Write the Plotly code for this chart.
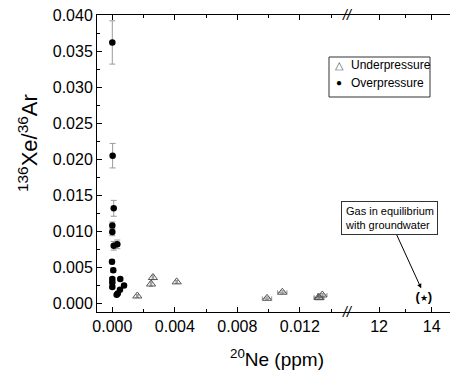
import plotly.graph_objects as go

# Overpressure samples (filled circles)
over_x = [0.0, 0.00002, 0.00009, 0.0, 0.0, 0.00009, 0.00032, -0.00002, 0.00006,
          0.0, 0.00051, 0.0, 0.0, 0.00075, 0.00049, 0.00035, 0.00028]
over_y = [0.0362, 0.0205, 0.0132, 0.0108, 0.0099, 0.0080, 0.0082, 0.0058, 0.0046,
          0.0034, 0.0034, 0.0029, 0.0023, 0.0025, 0.0019, 0.0014, 0.0012]
over_err = [0.0030, 0.0017, 0.0011, 0.0005, 0.0005, 0.0006, 0.0006, 0.0003, 0.0003,
            0.0002, 0.0002, 0.0002, 0.0002, 0.0002, 0.0001, 0.0001, 0.0001]

# Underpressure samples (open triangles)
under_x = [0.0016, 0.00248, 0.0026, 0.00412, 0.0099, 0.01088, 0.0132, 0.01344, 0.01325]
under_y = [0.00104, 0.0027, 0.0036, 0.0030, 0.00072, 0.00156, 0.00085, 0.00118, 0.0008]
under_err_y = [0.0002, 0.0003, 0.0003, 0.0002, 0.0002, 0.0002, 0.0002, 0.0002, 0.0002]
under_err_x = [0.00005, 0.00005, 0.00005, 0.00005, 0.0003, 0.0003, 0.0003, 0.0003, 0.0003]

# Gas in equilibrium with groundwater
eq_x = [13.7]
eq_y = [0.0008]

y_ticks = [0.000, 0.005, 0.010, 0.015, 0.020, 0.025, 0.030, 0.035, 0.040]
x_ticks_left = [0.000, 0.004, 0.008, 0.012]
x_ticks_right = [12, 14]
legend_names = ["Underpressure", "Overpressure"]

FONT = "Arial, Liberation Sans, sans-serif"
ERR = "#9a9a9a"
OFF = 8  # page body margin
W, H = 458, 377
# plot area in page pixels: left 97, right 458, top 15, bottom 312
L, T = 97 - OFF, 15 - OFF
R = W - (458 - OFF)
B = H - (312 - OFF)
PW, PH = W - L - R, H - T - B


def px(xp):
    return (xp - OFF - L) / PW


def py(yp):
    return (H - B - (yp - OFF)) / PH


fig = go.Figure()

fig.add_trace(go.Scatter(
    x=under_x, y=under_y, mode="markers", name=legend_names[0],
    marker=dict(symbol="triangle-up-open", size=8, color="#555555", line=dict(width=1)),
    error_y=dict(type="data", array=under_err_y, color=ERR, thickness=1, width=2),
    error_x=dict(type="data", array=under_err_x, color=ERR, thickness=1, width=2),
    xaxis="x", yaxis="y", showlegend=False,
))
fig.add_trace(go.Scatter(
    x=over_x, y=over_y, mode="markers", name=legend_names[1],
    marker=dict(symbol="circle", size=6.5, color="black"),
    error_y=dict(type="data", array=over_err, color=ERR, thickness=1, width=3),
    xaxis="x", yaxis="y", showlegend=False,
))
fig.add_trace(go.Scatter(
    x=eq_x, y=eq_y, mode="text", text=["<b>(</b><span style='font-size:9px'>★</span><b>)</b>"],
    textfont=dict(family=FONT, size=13, color="black"), showlegend=False,
    xaxis="x2", yaxis="y",
))

axis_common = dict(
    showline=True, linecolor="black", linewidth=1, ticks="inside", ticklen=5,
    tickcolor="black", tickfont=dict(family=FONT, size=16, color="black"),
    showgrid=False, zeroline=False, automargin=False, ticklabeloverflow="allow",
)

BRK = px(347)
fig.update_layout(
    width=W, height=H,
    margin=dict(l=L, r=R, t=T, b=B),
    paper_bgcolor="white", plot_bgcolor="white",
    xaxis=dict(domain=[0, BRK], range=[-0.00098, 0.01502], tickvals=x_ticks_left,
               tickformat=".3f", mirror="ticks",
               minor=dict(dtick=0.002, ticks="inside", ticklen=3, tickcolor="black"),
               anchor="y", **axis_common),
    xaxis2=dict(domain=[BRK, 1], range=[10.78, 15.0], tickvals=x_ticks_right, mirror="ticks",
                minor=dict(tickvals=[13], ticks="inside", ticklen=3, tickcolor="black"),
                anchor="y", **axis_common),
    yaxis=dict(domain=[0, 1], range=[-0.00118, 0.04001], tickvals=y_ticks, tickformat=".3f",
               mirror=False,
               minor=dict(dtick=0.0025, ticks="inside", ticklen=3, tickcolor="black"),
               anchor="x", **axis_common),
    showlegend=False,
    font=dict(family=FONT, color="black"),
)

# Legend box (drawn manually to match the compact original)
shapes = [
    dict(type="rect", xref="paper", yref="paper", x0=px(329), x1=px(430), y0=py(97), y1=py(57),
         line=dict(color="#333333", width=1), fillcolor="white", layer="above"),
]

annotations = [
    dict(text="<sup>136</sup>Xe/<sup>36</sup>Ar", xref="paper", yref="paper",
         x=px(28), y=py(143), textangle=-90, showarrow=False,
         font=dict(family=FONT, size=22, color="black"), xanchor="center", yanchor="middle"),
    dict(text="<sup>20</sup>Ne (ppm)", xref="paper", yref="paper",
         x=px(277), y=py(358), showarrow=False,
         font=dict(family=FONT, size=19, color="black"), xanchor="center", yanchor="middle"),
    dict(text="Gas in equilibrium<br>with groundwater", xref="x2", yref="y",
         x=13.6, y=0.0021, ax=-32, ay=-70, axref="pixel", ayref="pixel",
         showarrow=True, arrowhead=2, arrowsize=0.9, arrowwidth=1, arrowcolor="black",
         bordercolor="#333333", borderwidth=1, borderpad=3, bgcolor="white",
         font=dict(family=FONT, size=11, color="black"), align="left"),
    dict(text="<i>//</i>", xref="paper", yref="paper", x=BRK, y=0, showarrow=False,
         font=dict(family=FONT, size=14, color="black"), xanchor="center", yanchor="middle"),
    dict(text="<i>//</i>", xref="paper", yref="paper", x=BRK, y=1, showarrow=False,
         font=dict(family=FONT, size=14, color="black"), xanchor="center", yanchor="middle"),
    # legend symbols and labels
    dict(text="△", xref="paper", yref="paper", x=px(339), y=py(65), showarrow=False,
         font=dict(family=FONT, size=11, color="#555555"), xanchor="center", yanchor="middle"),
    dict(text="●", xref="paper", yref="paper", x=px(339), y=py(83), showarrow=False,
         font=dict(family=FONT, size=10, color="black"), xanchor="center", yanchor="middle"),
    dict(text=legend_names[0], xref="paper", yref="paper", x=px(349), y=py(65), showarrow=False,
         font=dict(family=FONT, size=12, color="black"), xanchor="left", yanchor="middle"),
    dict(text=legend_names[1], xref="paper", yref="paper", x=px(349), y=py(83), showarrow=False,
         font=dict(family=FONT, size=12, color="black"), xanchor="left", yanchor="middle"),
]
fig.update_layout(annotations=annotations, shapes=shapes)

fig.write_html("out.html")
